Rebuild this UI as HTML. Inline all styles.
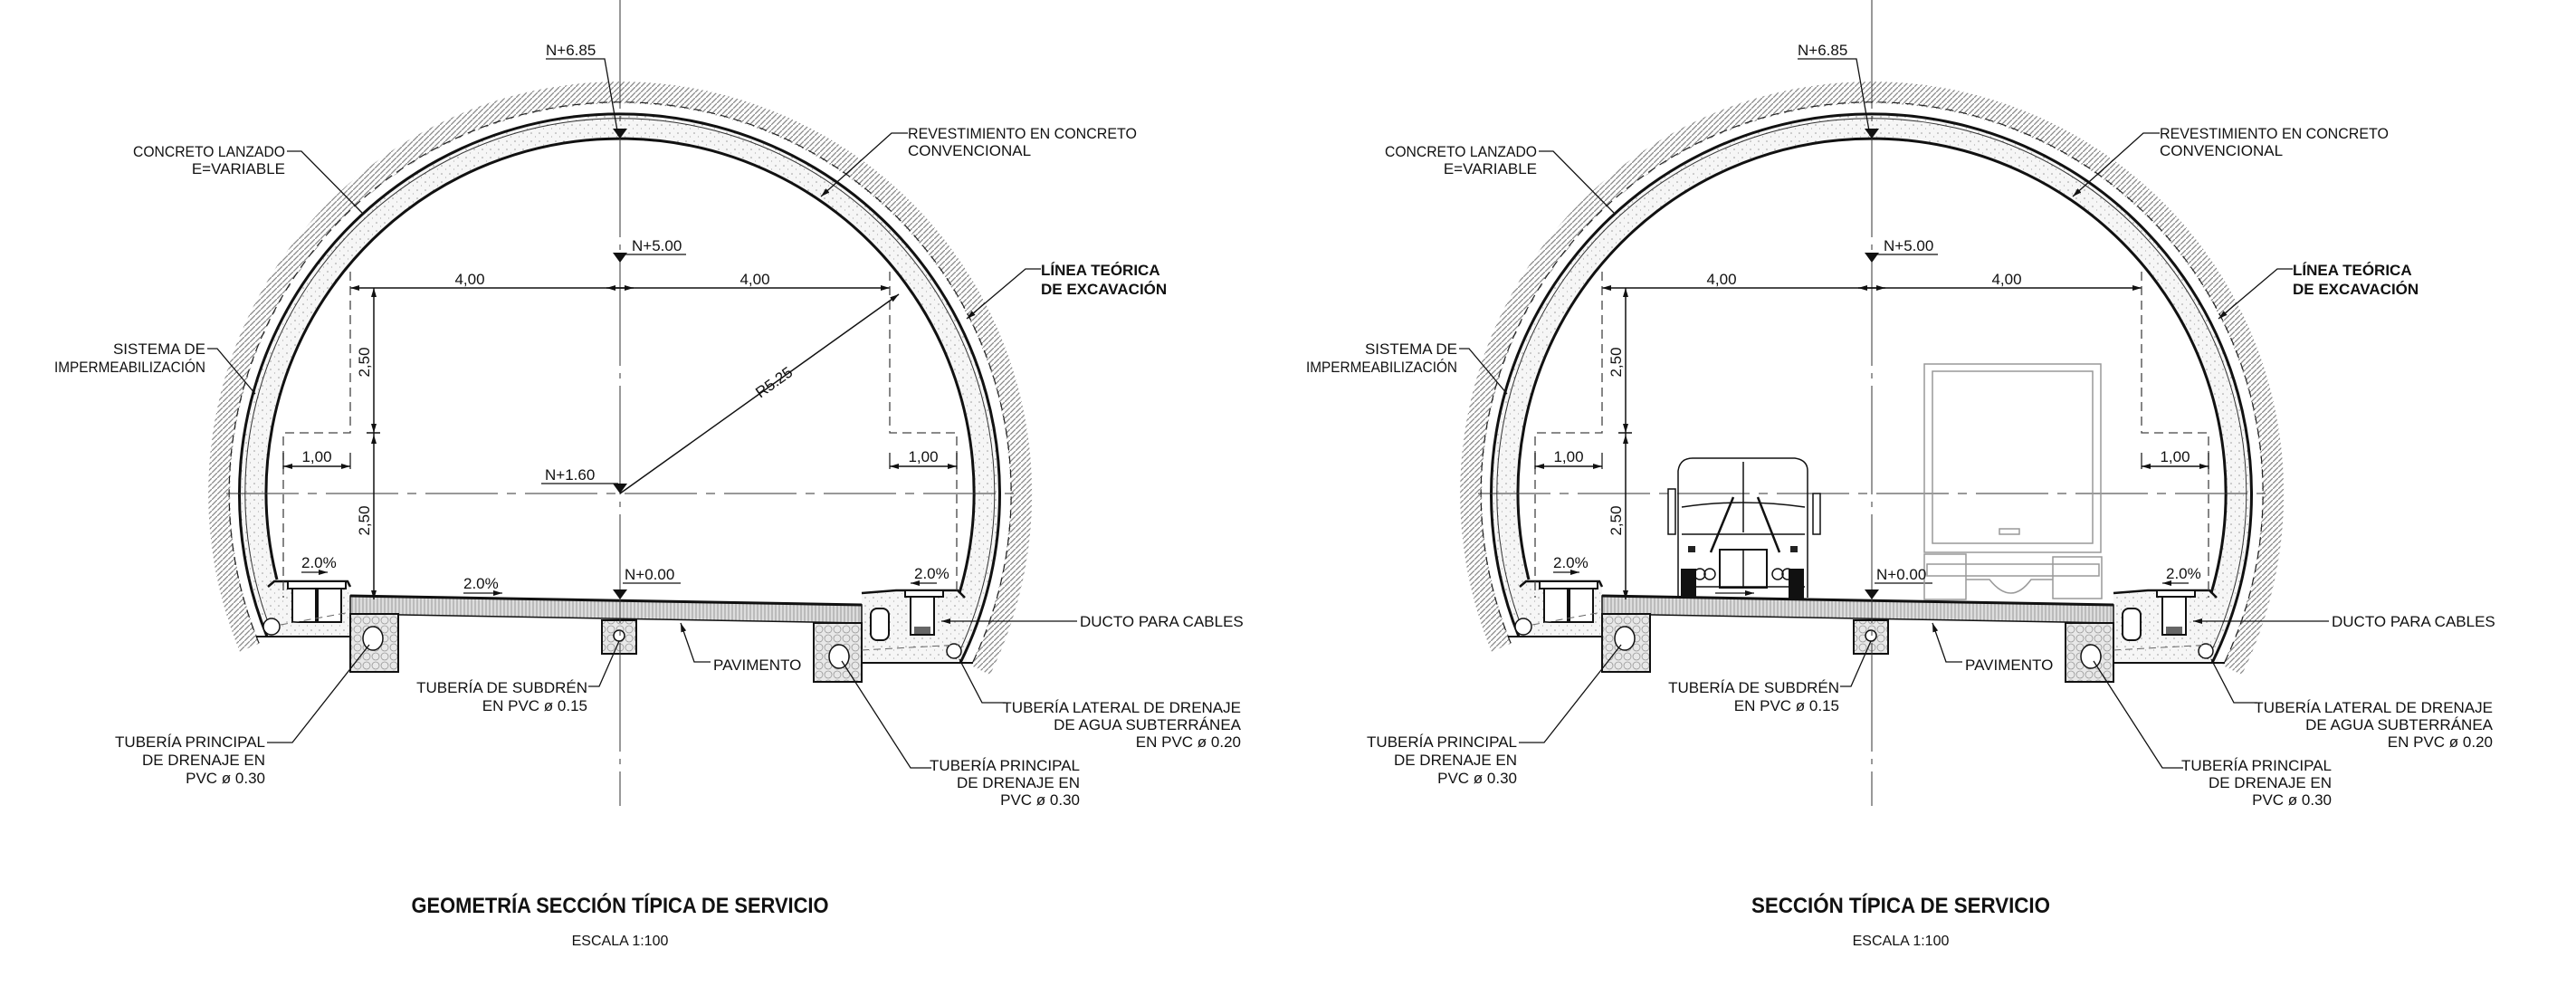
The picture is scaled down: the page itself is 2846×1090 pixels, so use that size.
<!DOCTYPE html>
<html><head><meta charset="utf-8"><style>
html,body{margin:0;padding:0;background:#fff;}
svg{display:block;}
text{font-family:"Liberation Sans Narrow","Liberation Sans",sans-serif;fill:#111;}
</style></head><body>
<svg width="2846" height="1090" viewBox="0 0 2846 1090" xmlns="http://www.w3.org/2000/svg">
<defs>
<pattern id="hatch" width="6" height="6" patternUnits="userSpaceOnUse"><path d="M0,6 L6,0" stroke="#8a8a8a" stroke-width="1.3"/></pattern>
<pattern id="dots" width="9" height="9" patternUnits="userSpaceOnUse"><rect width="9" height="9" fill="#f6f6f6"/><circle cx="2" cy="3" r="0.8" fill="#999"/><circle cx="6.5" cy="7" r="0.6" fill="#aaa"/></pattern>
<pattern id="pave" width="4" height="5" patternUnits="userSpaceOnUse"><rect width="4" height="5" fill="#ddd"/><path d="M1,0 V5" stroke="#999" stroke-width="1"/></pattern>
<pattern id="grav" width="10" height="10" patternUnits="userSpaceOnUse"><rect width="10" height="10" fill="#e8e8e8"/><circle cx="5" cy="5" r="4" fill="none" stroke="#999" stroke-width="0.8"/></pattern>
<marker id="ar" markerWidth="10" markerHeight="6" refX="10" refY="3" orient="auto-start-reverse" markerUnits="userSpaceOnUse"><path d="M0,0 L10,3 L0,6 z" fill="#111"/></marker>
<g id="tun">
  <path d="M276,715 A443,443 0 1 1 1083,740" fill="none" stroke="url(#hatch)" stroke-width="24"/>
  <path d="M306,690 A405.5,405.5 0 1 1 1051,720" fill="none" stroke="url(#dots)" stroke-width="29"/>
  <path d="M300,642 L387,642 L387,703 L292,703 Z" fill="url(#dots)"/>
  <path d="M952,655 L1062,655 L1068,732 L952,732 Z" fill="url(#dots)"/>
  <path d="M286,710 A432,432 0 1 1 1073,735" fill="none" stroke="#222" stroke-width="1.2" stroke-dasharray="9 6"/>
  <path d="M295,703 A420,420 0 1 1 1061,732" fill="none" stroke="#111" stroke-width="3"/>
  <path d="M301,700 A414,414 0 1 1 1056,728" fill="none" stroke="#333" stroke-width="1"/>
  <path d="M306,640 A391,391 0 1 1 1060,655" fill="none" stroke="#111" stroke-width="3"/>
  <path d="M387,658 L952,668 L952,688 L387,678 Z" fill="url(#pave)" stroke="#111" stroke-width="1.5"/>
  <path d="M387,658 L952,668" stroke="#111" stroke-width="3"/>
  <rect x="387" y="678" width="53" height="64" fill="url(#grav)" stroke="#111" stroke-width="2"/>
  <ellipse cx="412" cy="705" rx="11" ry="13" fill="#fff" stroke="#111" stroke-width="1.5"/>
  <rect x="665" y="685" width="38" height="37" fill="url(#grav)" stroke="#111" stroke-width="2"/>
  <circle cx="684" cy="702" r="6" fill="#fff" stroke="#111" stroke-width="1.5"/>
  <rect x="899" y="688" width="53" height="65" fill="url(#grav)" stroke="#111" stroke-width="2"/>
  <ellipse cx="927" cy="725" rx="11" ry="13" fill="#fff" stroke="#111" stroke-width="1.5"/>
  <path d="M296,648 L303,642 L384,642 L387,648" fill="none" stroke="#111" stroke-width="2.5"/>
  <rect x="318" y="642" width="64" height="8" fill="#fff" stroke="#111" stroke-width="2"/>
  <rect x="323" y="650" width="26" height="37" fill="#fff" stroke="#111" stroke-width="2"/>
  <rect x="351" y="650" width="26" height="37" fill="#fff" stroke="#111" stroke-width="2"/>
  <circle cx="300" cy="692" r="9" fill="#fff" stroke="#111" stroke-width="1.5"/>
  <path d="M283,703 L387,703" stroke="#111" stroke-width="2"/>
  <path d="M310,690 L387,676" stroke="#666" stroke-width="1" stroke-dasharray="8 5"/>
  <path d="M952,655 L990,652 L1058,652 L1066,660" fill="none" stroke="#111" stroke-width="2.5"/>
  <rect x="1000" y="652" width="42" height="7" fill="#fff" stroke="#111" stroke-width="2"/>
  <rect x="1006" y="659" width="26" height="42" fill="#fff" stroke="#111" stroke-width="2"/>
  <rect x="1010" y="692" width="18" height="8" fill="#666"/>
  <rect x="962" y="672" width="20" height="35" rx="7" fill="#fff" stroke="#111" stroke-width="2"/>
  <circle cx="1054" cy="719" r="8" fill="#fff" stroke="#111" stroke-width="1.5"/>
  <path d="M952,732 L1075,732" stroke="#111" stroke-width="2"/>
  <path d="M952,718 L1060,712" stroke="#666" stroke-width="1" stroke-dasharray="8 5"/>
  <path d="M685,0 V890" stroke="#333" stroke-width="1" stroke-dasharray="120 8 6 8"/>
  <path d="M250,545 H1120" stroke="#333" stroke-width="1" stroke-dasharray="80 10 10 10"/>
  <path d="M387,318 H983" stroke="#111" stroke-width="1.5" marker-start="url(#ar)" marker-end="url(#ar)"/>
  <path d="M685,318 L670,318" stroke="#111" stroke-width="1.5" marker-end="url(#ar)"/>
  <path d="M685,318 L700,318" stroke="#111" stroke-width="1.5" marker-end="url(#ar)"/>
  <path d="M387,300 V478 H313 V660" fill="none" stroke="#444" stroke-width="1.3" stroke-dasharray="10 6"/>
  <path d="M983,300 V478 H1057 V660" fill="none" stroke="#444" stroke-width="1.3" stroke-dasharray="10 6"/>
  <path d="M413,318 V662" stroke="#111" stroke-width="1.5"/>
  <path d="M413,330 L413,318" stroke="#111" marker-end="url(#ar)"/>
  <path d="M413,465 L413,478" stroke="#111" marker-end="url(#ar)"/>
  <path d="M413,495 L413,480" stroke="#111" marker-end="url(#ar)"/>
  <path d="M413,650 L413,662" stroke="#111" marker-end="url(#ar)"/>
  <path d="M405,478 H420" stroke="#111" stroke-width="1.5"/>
  <path d="M313,500 V518 M387,500 V518 M983,500 V518 M1057,500 V518" stroke="#111" stroke-width="1.2"/>
  <path d="M313,515 H387" stroke="#111" stroke-width="1.5" marker-start="url(#ar)" marker-end="url(#ar)"/>
  <path d="M983,515 H1057" stroke="#111" stroke-width="1.5" marker-start="url(#ar)" marker-end="url(#ar)"/>
  <path d="M677,142 L693,142 L685,153 Z M677,279 L693,279 L685,290 Z M677,651 L693,651 L685,662 Z" fill="#111"/>
  <path d="M603,65 H668 L683,150" fill="none" stroke="#111" stroke-width="1.3"/>
  <path d="M688,281 H758 M688,644 H752" stroke="#111" stroke-width="1.3"/>
  <path d="M333,632 H362" stroke="#111" stroke-width="1.3" marker-end="url(#ar)"/>
  <path d="M512,655 H555" stroke="#111" stroke-width="1.3" marker-end="url(#ar)"/>
  <path d="M1035,644 H1006" stroke="#111" stroke-width="1.3" marker-end="url(#ar)"/>
  <g fill="none" stroke="#111" stroke-width="1.3">
    <path d="M317,167 H333 L400,235"/>
    <path d="M229,385 H240 L282,435"/>
    <path d="M1003,147 H985 L907,217" marker-end="url(#ar)"/>
    <path d="M1150,297 H1133 L1068,352" marker-end="url(#ar)"/>
    <path d="M1190,686 H1040" marker-end="url(#ar)"/>
    <path d="M785,731 H767 L752,688" marker-end="url(#ar)"/>
    <path d="M650,758 H662 L684,708"/>
    <path d="M295,820 H323 L408,712"/>
    <path d="M1111,776 H1085 L1060,728"/>
    <path d="M1029,848 H1006 L930,730"/>
  </g>
</g>
</defs>

<use href="#tun"/>
<use href="#tun" transform="translate(1383,0)"/>

<path d="M685,545 L993,325" stroke="#111" stroke-width="1.5" marker-end="url(#ar)"/>
<path d="M677,534 L693,534 L685,545 Z" fill="#111"/>
<path d="M598,534 H683" stroke="#111" stroke-width="1.3"/>
<text x="840" y="440" font-size="17" transform="rotate(-35.5 840 440)">R5.25</text>
<text x="602" y="530" font-size="17">N+1.60</text>

<g stroke="#111" fill="none" stroke-width="1.5">
  <path d="M1854,660 L1854,520 Q1856,506 1870,506 L1983,506 Q1997,508 1997,520 L1997,660"/>
  <path d="M1858,560 Q1925,550 1994,560 M1858,590 H1994 M1858,648 H1994"/>
  <path d="M1926,510 V588"/>
  <path d="M1915,549 L1890,610 M1942,549 L1966,610" stroke-width="2.5"/>
  <rect x="1900" y="607" width="52" height="42" stroke-width="2"/>
  <path d="M1926,607 V649"/>
  <circle cx="1878" cy="634" r="6"/><circle cx="1889" cy="634" r="6"/>
  <circle cx="1964" cy="634" r="6"/><circle cx="1975" cy="634" r="6"/>
  <rect x="1843" y="540" width="8" height="50"/><rect x="2003" y="545" width="8" height="45"/>
</g>
<rect x="1857" y="628" width="17" height="33" fill="#111"/>
<rect x="1976" y="628" width="17" height="33" fill="#111"/>
<rect x="1865" y="603" width="8" height="7" fill="#222"/><rect x="1978" y="603" width="8" height="7" fill="#222"/>
<g stroke="#999" fill="none" stroke-width="1.5">
  <rect x="2126" y="402" width="195" height="208"/>
  <rect x="2135" y="410" width="177" height="190"/>
  <rect x="2209" y="584" width="22" height="6"/>
  <rect x="2126" y="612" width="46" height="50"/>
  <rect x="2268" y="615" width="54" height="46"/>
  <rect x="2129" y="623" width="190" height="13"/>
  <path d="M2172,640 H2198 Q2222,670 2244,640 H2268"/>
</g>

<g font-size="17">
<text x="603" y="61">N+6.85</text>
<text x="698" y="277">N+5.00</text>
<text x="690" y="640">N+0.00</text>
<text x="519" y="314" text-anchor="middle">4,00</text>
<text x="834" y="314" text-anchor="middle">4,00</text>
<text x="350" y="510" text-anchor="middle">1,00</text>
<text x="1020" y="510" text-anchor="middle">1,00</text>
<text x="408" y="400" text-anchor="middle" transform="rotate(-90 408 400)">2,50</text>
<text x="408" y="575" text-anchor="middle" transform="rotate(-90 408 575)">2,50</text>
<text x="333" y="627">2.0%</text>
<text x="512" y="650">2.0%</text>
<text x="1010" y="639">2.0%</text>
<text x="147" y="173" textLength="168" lengthAdjust="spacingAndGlyphs">CONCRETO  LANZADO</text>
<text x="315" y="192" text-anchor="end">E=VARIABLE</text>
<text x="227" y="391" text-anchor="end">SISTEMA  DE</text>
<text x="60" y="411" textLength="167" lengthAdjust="spacingAndGlyphs">IMPERMEABILIZACIÓN</text>
<text x="1003" y="153" textLength="253" lengthAdjust="spacingAndGlyphs">REVESTIMIENTO  EN  CONCRETO</text>
<text x="1003" y="172">CONVENCIONAL</text>
<text x="1150" y="304" font-weight="bold">LÍNEA  TEÓRICA</text>
<text x="1150" y="325" font-weight="bold">DE  EXCAVACIÓN</text>
<text x="1193" y="692">DUCTO  PARA  CABLES</text>
<text x="788" y="740">PAVIMENTO</text>
<text x="649" y="765" text-anchor="end">TUBERÍA  DE  SUBDRÉN</text>
<text x="649" y="785" text-anchor="end">EN  PVC  ø  0.15</text>
<text x="293" y="825" text-anchor="end">TUBERÍA  PRINCIPAL</text>
<text x="293" y="845" text-anchor="end">DE  DRENAJE  EN</text>
<text x="293" y="865" text-anchor="end">PVC  ø  0.30</text>
<text x="1371" y="787" text-anchor="end">TUBERÍA  LATERAL  DE  DRENAJE</text>
<text x="1371" y="806" text-anchor="end">DE  AGUA  SUBTERRÁNEA</text>
<text x="1371" y="825" text-anchor="end">EN  PVC  ø  0.20</text>
<text x="1193" y="851" text-anchor="end">TUBERÍA  PRINCIPAL</text>
<text x="1193" y="870" text-anchor="end">DE  DRENAJE  EN</text>
<text x="1193" y="889" text-anchor="end">PVC  ø  0.30</text>
</g>
<text x="685" y="1008" font-size="24" font-weight="bold" text-anchor="middle" textLength="461" lengthAdjust="spacingAndGlyphs">GEOMETRÍA  SECCIÓN  TÍPICA  DE  SERVICIO</text>
<text x="685" y="1044" font-size="16" text-anchor="middle">ESCALA  1:100</text>

<g font-size="17" transform="translate(1383,0)">
<text x="603" y="61">N+6.85</text>
<text x="698" y="277">N+5.00</text>
<text x="690" y="640">N+0.00</text>
<text x="519" y="314" text-anchor="middle">4,00</text>
<text x="834" y="314" text-anchor="middle">4,00</text>
<text x="350" y="510" text-anchor="middle">1,00</text>
<text x="1020" y="510" text-anchor="middle">1,00</text>
<text x="408" y="400" text-anchor="middle" transform="rotate(-90 408 400)">2,50</text>
<text x="408" y="575" text-anchor="middle" transform="rotate(-90 408 575)">2,50</text>
<text x="333" y="627">2.0%</text>
<text x="1010" y="639">2.0%</text>
<text x="147" y="173" textLength="168" lengthAdjust="spacingAndGlyphs">CONCRETO  LANZADO</text>
<text x="315" y="192" text-anchor="end">E=VARIABLE</text>
<text x="227" y="391" text-anchor="end">SISTEMA  DE</text>
<text x="60" y="411" textLength="167" lengthAdjust="spacingAndGlyphs">IMPERMEABILIZACIÓN</text>
<text x="1003" y="153" textLength="253" lengthAdjust="spacingAndGlyphs">REVESTIMIENTO  EN  CONCRETO</text>
<text x="1003" y="172">CONVENCIONAL</text>
<text x="1150" y="304" font-weight="bold">LÍNEA  TEÓRICA</text>
<text x="1150" y="325" font-weight="bold">DE  EXCAVACIÓN</text>
<text x="1193" y="692">DUCTO  PARA  CABLES</text>
<text x="788" y="740">PAVIMENTO</text>
<text x="649" y="765" text-anchor="end">TUBERÍA  DE  SUBDRÉN</text>
<text x="649" y="785" text-anchor="end">EN  PVC  ø  0.15</text>
<text x="293" y="825" text-anchor="end">TUBERÍA  PRINCIPAL</text>
<text x="293" y="845" text-anchor="end">DE  DRENAJE  EN</text>
<text x="293" y="865" text-anchor="end">PVC  ø  0.30</text>
<text x="1371" y="787" text-anchor="end">TUBERÍA  LATERAL  DE  DRENAJE</text>
<text x="1371" y="806" text-anchor="end">DE  AGUA  SUBTERRÁNEA</text>
<text x="1371" y="825" text-anchor="end">EN  PVC  ø  0.20</text>
<text x="1193" y="851" text-anchor="end">TUBERÍA  PRINCIPAL</text>
<text x="1193" y="870" text-anchor="end">DE  DRENAJE  EN</text>
<text x="1193" y="889" text-anchor="end">PVC  ø  0.30</text>
</g>
<text x="2100" y="1008" font-size="24" font-weight="bold" text-anchor="middle" textLength="330" lengthAdjust="spacingAndGlyphs">SECCIÓN  TÍPICA  DE  SERVICIO</text>
<text x="2100" y="1044" font-size="16" text-anchor="middle">ESCALA  1:100</text>
</svg>
</body></html>
